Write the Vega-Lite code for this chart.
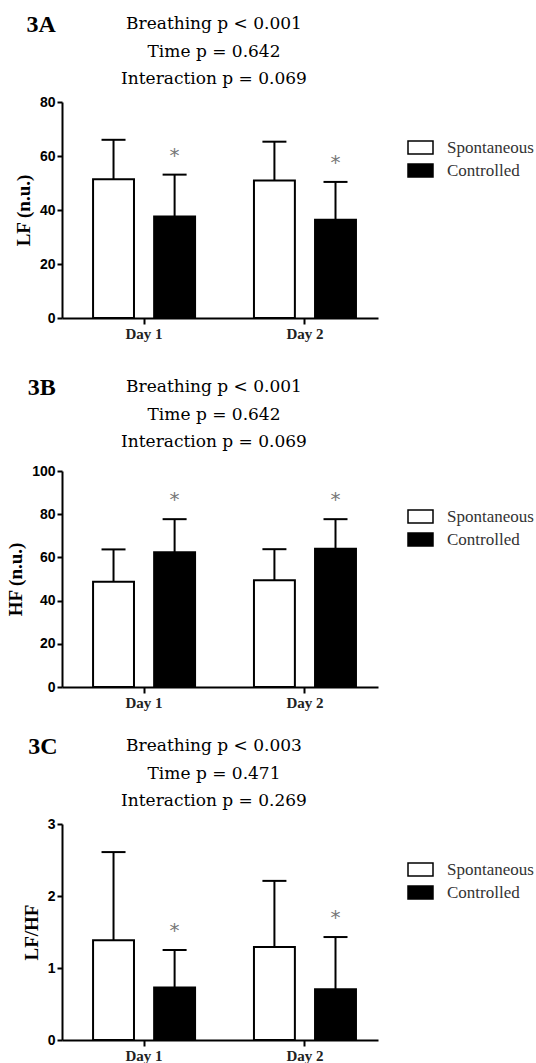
{
  "$schema": "https://vega.github.io/schema/vega-lite/v6.json",
  "padding": {"left": 6, "top": 13, "right": 0, "bottom": 0},
  "spacing": 25,
  "datasets": {
    "A": [
      {"day": "Day 1", "breathing": "Spontaneous", "mean": 51.4, "upper": 66.0, "star": ""},
      {"day": "Day 1", "breathing": "Controlled", "mean": 37.6, "upper": 53.1, "star": "*"},
      {"day": "Day 2", "breathing": "Spontaneous", "mean": 50.9, "upper": 65.3, "star": ""},
      {"day": "Day 2", "breathing": "Controlled", "mean": 36.4, "upper": 50.4, "star": "*"}
    ],
    "B": [
      {"day": "Day 1", "breathing": "Spontaneous", "mean": 48.7, "upper": 63.7, "star": ""},
      {"day": "Day 1", "breathing": "Controlled", "mean": 62.4, "upper": 77.7, "star": "*"},
      {"day": "Day 2", "breathing": "Spontaneous", "mean": 49.4, "upper": 63.8, "star": ""},
      {"day": "Day 2", "breathing": "Controlled", "mean": 64.0, "upper": 77.7, "star": "*"}
    ],
    "C": [
      {"day": "Day 1", "breathing": "Spontaneous", "mean": 1.385, "upper": 2.61, "star": ""},
      {"day": "Day 1", "breathing": "Controlled", "mean": 0.73, "upper": 1.25, "star": "*"},
      {"day": "Day 2", "breathing": "Spontaneous", "mean": 1.29, "upper": 2.21, "star": ""},
      {"day": "Day 2", "breathing": "Controlled", "mean": 0.705, "upper": 1.43, "star": "*"}
    ]
  },
  "resolve": {"scale": {"fill": "independent", "y": "independent"}, "legend": {"fill": "independent"}},
  "vconcat": [
    {
      "spacing": 35,
      "resolve": {"scale": {"fill": "independent", "y": "independent"}, "legend": {"fill": "independent"}},
      "vconcat": [
        {
          "title": {"text": "3A", "anchor": "start", "font": "Liberation Serif", "fontSize": 24, "fontWeight": "bold", "color": "black", "offset": -22, "dx": 12},
          "vconcat": [
            {
              "width": 316, "height": 216,
              "title": {"text": ["Breathing p < 0.001", "Time p = 0.642", "Interaction p = 0.069"], "anchor": "middle", "font": "DejaVu Serif", "fontSize": 17, "fontWeight": "normal", "lineHeight": 27.5, "offset": 7, "dx": -6, "color": "black"},
              "data": {"name": "A"},
              "encoding": {
                "x": {"field": "day", "type": "nominal", "scale": {"domain": ["Day 1", "Day 2"], "paddingInner": 0.366, "paddingOuter": 0.165, "align": 0.585}, "axis": {"title": null, "labelAngle": 0}},
                "xOffset": {"field": "breathing", "type": "nominal", "scale": {"domain": ["Spontaneous", "Controlled"], "paddingInner": 0.33, "paddingOuter": 0}}
              },
              "layer": [
                {"mark": {"type": "bar", "stroke": "black", "strokeWidth": 2},
                 "encoding": {
                   "y": {"field": "mean", "type": "quantitative", "scale": {"domain": [0, 80]}, "axis": {"title": "LF (n.u.)", "values": [0, 20, 40, 60, 80]}},
                   "fill": {"field": "breathing", "type": "nominal", "scale": {"domain": ["Spontaneous", "Controlled"], "range": ["white", "black"]}, "legend": {"title": null, "orient": "none", "legendX": 345, "legendY": 32}}
                 }},
                {"mark": {"type": "rule", "strokeWidth": 2, "color": "black"}, "encoding": {"y": {"field": "mean", "type": "quantitative"}, "y2": {"field": "upper"}}},
                {"mark": {"type": "tick", "thickness": 2, "size": 24, "color": "black", "opacity": 1}, "encoding": {"y": {"field": "upper", "type": "quantitative"}}},
                {"mark": {"type": "text", "dy": -19, "fontSize": 20, "color": "#777", "font": "DejaVu Sans", "baseline": "middle"}, "encoding": {"y": {"field": "upper", "type": "quantitative"}, "text": {"field": "star"}}}
              ]
            }
          ]
        },
        {
          "title": {"text": "3B", "anchor": "start", "font": "Liberation Serif", "fontSize": 24, "fontWeight": "bold", "color": "black", "offset": -22, "dx": 21},
          "vconcat": [
            {
              "width": 316, "height": 216,
              "title": {"text": ["Breathing p < 0.001", "Time p = 0.642", "Interaction p = 0.069"], "anchor": "middle", "font": "DejaVu Serif", "fontSize": 17, "fontWeight": "normal", "lineHeight": 27.5, "offset": 12.7, "dx": -6, "color": "black"},
              "data": {"name": "B"},
              "encoding": {
                "x": {"field": "day", "type": "nominal", "scale": {"domain": ["Day 1", "Day 2"], "paddingInner": 0.366, "paddingOuter": 0.165, "align": 0.585}, "axis": {"title": null, "labelAngle": 0}},
                "xOffset": {"field": "breathing", "type": "nominal", "scale": {"domain": ["Spontaneous", "Controlled"], "paddingInner": 0.33, "paddingOuter": 0}}
              },
              "layer": [
                {"mark": {"type": "bar", "stroke": "black", "strokeWidth": 2},
                 "encoding": {
                   "y": {"field": "mean", "type": "quantitative", "scale": {"domain": [0, 100]}, "axis": {"title": "HF (n.u.)", "values": [0, 20, 40, 60, 80, 100]}},
                   "fill": {"field": "breathing", "type": "nominal", "scale": {"domain": ["Spontaneous", "Controlled"], "range": ["white", "black"]}, "legend": {"title": null, "orient": "none", "legendX": 345, "legendY": 32}}
                 }},
                {"mark": {"type": "rule", "strokeWidth": 2, "color": "black"}, "encoding": {"y": {"field": "mean", "type": "quantitative"}, "y2": {"field": "upper"}}},
                {"mark": {"type": "tick", "thickness": 2, "size": 24, "color": "black", "opacity": 1}, "encoding": {"y": {"field": "upper", "type": "quantitative"}}},
                {"mark": {"type": "text", "dy": -19, "fontSize": 20, "color": "#777", "font": "DejaVu Sans", "baseline": "middle"}, "encoding": {"y": {"field": "upper", "type": "quantitative"}, "text": {"field": "star"}}}
              ]
            }
          ]
        }
      ]
    },
    {
      "title": {"text": "3C", "anchor": "start", "font": "Liberation Serif", "fontSize": 24, "fontWeight": "bold", "color": "black", "offset": -22, "dx": 6},
      "vconcat": [
        {
          "width": 316, "height": 216,
          "title": {"text": ["Breathing p < 0.003", "Time p = 0.471", "Interaction p = 0.269"], "anchor": "middle", "font": "DejaVu Serif", "fontSize": 17, "fontWeight": "normal", "lineHeight": 27.5, "offset": 7, "dx": -6, "color": "black"},
          "data": {"name": "C"},
          "encoding": {
            "x": {"field": "day", "type": "nominal", "scale": {"domain": ["Day 1", "Day 2"], "paddingInner": 0.366, "paddingOuter": 0.165, "align": 0.585}, "axis": {"title": null, "labelAngle": 0}},
            "xOffset": {"field": "breathing", "type": "nominal", "scale": {"domain": ["Spontaneous", "Controlled"], "paddingInner": 0.33, "paddingOuter": 0}}
          },
          "layer": [
            {"mark": {"type": "bar", "stroke": "black", "strokeWidth": 2},
             "encoding": {
               "y": {"field": "mean", "type": "quantitative", "scale": {"domain": [0, 3]}, "axis": {"title": "LF/HF", "values": [0, 1, 2, 3], "format": "d"}},
               "fill": {"field": "breathing", "type": "nominal", "scale": {"domain": ["Spontaneous", "Controlled"], "range": ["white", "black"]}, "legend": {"title": null, "orient": "none", "legendX": 345, "legendY": 32}}
             }},
            {"mark": {"type": "rule", "strokeWidth": 2, "color": "black"}, "encoding": {"y": {"field": "mean", "type": "quantitative"}, "y2": {"field": "upper"}}},
            {"mark": {"type": "tick", "thickness": 2, "size": 24, "color": "black", "opacity": 1}, "encoding": {"y": {"field": "upper", "type": "quantitative"}}},
            {"mark": {"type": "text", "dy": -19, "fontSize": 20, "color": "#777", "font": "DejaVu Sans", "baseline": "middle"}, "encoding": {"y": {"field": "upper", "type": "quantitative"}, "text": {"field": "star"}}}
          ]
        }
      ]
    }
  ],
  "config": {
    "view": {"stroke": null},
    "axis": {"domainColor": "black", "domainWidth": 2, "tickColor": "black", "tickWidth": 2, "grid": false},
    "axisY": {"tickSize": 5, "labelFont": "Liberation Sans", "labelFontWeight": "bold", "labelFontSize": 14, "labelColor": "black", "labelPadding": 2, "titleFont": "Liberation Serif", "titleFontSize": 19, "titleFontWeight": "bold", "titleColor": "black", "titlePadding": 6},
    "axisX": {"tickSize": 6, "labelFont": "Liberation Serif", "labelFontWeight": "bold", "labelFontSize": 15, "labelColor": "#222", "labelPadding": 2},
    "legend": {"symbolType": "M-1,-0.52H1V0.52H-1Z", "symbolSize": 625, "symbolStrokeColor": "black", "symbolStrokeWidth": 1.5, "labelFont": "Liberation Serif", "labelFontSize": 17, "labelColor": "#333", "labelOffset": 13, "rowPadding": 0}
  }
}
